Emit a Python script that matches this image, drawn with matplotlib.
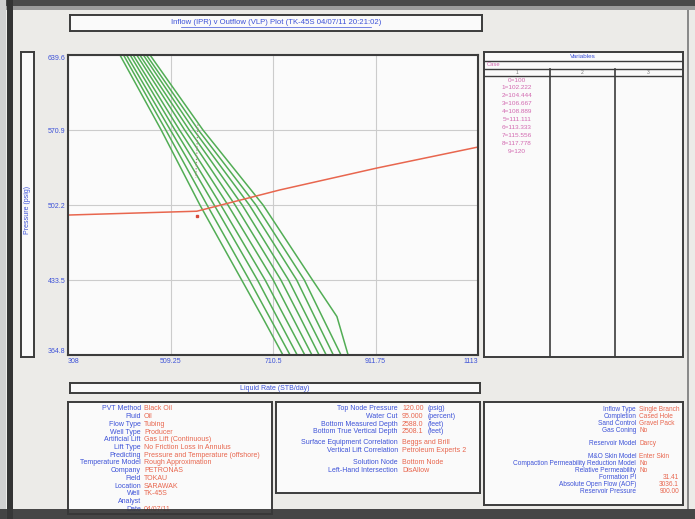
import matplotlib
matplotlib.use('Agg')
import matplotlib.pyplot as plt
from matplotlib.patches import Rectangle

# --- data ---
x_ticks = [308, 509.25, 710.5, 911.75, 1113]
y_ticks = [364.8, 433.5, 502.2, 570.9, 639.6]

# VLP (red outflow curve)
vlp_rate = [308, 561, 724, 915, 1113]
vlp_pres = [493.0, 496.5, 516.0, 536.1, 555.3]

# IPR curves (green), one rate list per sensitivity case, at these pressures
ipr_pres = [639.6, 570.9, 502.2, 433.5, 400.0, 364.8]
ipr_rates = [
    [410, 491, 567, 649, 689, 730],
    [417, 500, 581, 664, 703, 744],
    [423, 509, 595, 680, 718, 758],
    [430, 518, 608, 695, 733, 773],
    [436, 527, 622, 711, 748, 787],
    [443, 537, 636, 726, 763, 801],
    [449, 546, 650, 741, 777, 815],
    [456, 555, 664, 757, 792, 829],
    [462, 564, 677, 772, 807, 844],
    [469, 573, 691, 788, 836, 858],
]
case_labels = ['0=100', '1=102.222', '2=104.444', '3=106.667', '4=108.889',
               '5=111.111', '6=113.333', '7=115.556', '8=117.778', '9=120']

# dotted marker line near the VLP kink
mark_rate = [563, 559]
mark_pres = [576, 527]

setup_labels = ['PVT Method', 'Fluid', 'Flow Type', 'Well Type', 'Artificial Lift',
                'Lift Type', 'Predicting', 'Temperature Model', 'Company', 'Field',
                'Location', 'Well', 'Analyst', 'Date']
setup_values = ['Black Oil', 'Oil', 'Tubing', 'Producer', 'Gas Lift (Continuous)',
                'No Friction Loss in Annulus', 'Pressure and Temperature (offshore)',
                'Rough Approximation', 'PETRONAS', 'TOKAU', 'SARAWAK', 'TK-45S', '',
                '04/07/11']

well_labels = ['Top Node Pressure', 'Water Cut', 'Bottom Measured Depth',
               'Bottom True Vertical Depth', 'Surface Equipment Correlation',
               'Vertical Lift Correlation', 'Solution Node', 'Left-Hand Intersection']
well_values = ['120.00', '95.000', '2588.0', '2508.1', 'Beggs and Brill',
               'Petroleum Experts 2', 'Bottom Node', 'DisAllow']
well_units = ['(psig)', '(percent)', '(feet)', '(feet)', '', '', '', '']
well_rows = [409, 416.5, 424, 431.5, 443, 450.5, 462.5, 470]

res_labels = ['Inflow Type', 'Completion', 'Sand Control', 'Gas Coning',
              'Reservoir Model', 'M&O Skin Model',
              'Compaction Permeability Reduction Model', 'Relative Permeability',
              'Formation PI', 'Absolute Open Flow (AOF)', 'Reservoir Pressure']
res_values = ['Single Branch', 'Cased Hole', 'Gravel Pack', 'No', 'Darcy',
              'Enter Skin', 'No', 'No', '31.41', '3036.1', '900.00']
res_rows = [409, 416, 423, 430, 443, 456, 463, 470, 477, 484, 491]

# --- style ---
W, H = 695, 519
plt.rcParams['font.family'] = ['Liberation Sans', 'DejaVu Sans']
BLUE = '#3d52d8'
RED = '#e8664e'
PINK = '#d268b0'
GREEN = '#52ad55'
FRAME = '#3c3c3c'

fig = plt.figure(figsize=(W / 100, H / 100), dpi=100, facecolor='#ecebe8')


def box(x0, y0, x1, y1):
    return [x0 / W, 1 - y1 / H, (x1 - x0) / W, (y1 - y0) / H]


def panel(x0, y0, x1, y1, fc='#fafafa', lw=1.4):
    a = fig.add_axes(box(x0, y0, x1, y1), zorder=1)
    a.set_xlim(x0, x1)
    a.set_ylim(y1, y0)
    a.set_xticks([])
    a.set_yticks([])
    a.set_facecolor(fc)
    for s in a.spines.values():
        s.set_color(FRAME)
        s.set_linewidth(lw)
    return a


# --- main plot ---
ax = fig.add_axes(box(68, 55, 478, 355), zorder=2)
ax.set_facecolor('#fbfbfb')
for q in ipr_rates:
    ax.plot(q, ipr_pres, color=GREEN, lw=1.1, solid_capstyle='butt')
ax.plot(vlp_rate, vlp_pres, color=RED, lw=1.1)
ax.plot(mark_rate, mark_pres, color='#a08c80', lw=0.9, ls=(0, (1, 1.5)))
ax.plot([561], [492.5], marker='s', ms=2.0, color='#d84a3a', ls='none')

ax.set_xlim(308, 1113)
ax.set_ylim(364.8, 639.6)
ax.set_xticks(x_ticks)
ax.set_yticks(y_ticks)
ax.set_xticklabels([f'{v:g}' for v in x_ticks])
ax.set_yticklabels([f'{v:g}' for v in y_ticks])
ax.tick_params(length=0, labelsize=5, labelcolor=BLUE, pad=2)
xl = ax.get_xticklabels()
xl[0].set_ha('left')
xl[-1].set_ha('right')
yl = ax.get_yticklabels()
yl[0].set_va('bottom')
yl[-1].set_va('top')
ax.grid(color='#cccccc', lw=0.8)
for s in ax.spines.values():
    s.set_color(FRAME)
    s.set_linewidth(1.5)

# --- title and axis label boxes ---
t = panel(70, 15, 482, 31)
t.text(276, 23, 'Inflow (IPR) v Outflow (VLP) Plot (TK-45S 04/07/11 20:21:02)',
       ha='center', va='center', fontsize=5.6, color=BLUE)
t.plot([181, 371], [27.3, 27.3], color=BLUE, lw=0.5)

xb = panel(70, 383, 480, 393)
xb.text(275, 388, 'Liquid Rate (STB/day)', ha='center', va='center',
        fontsize=5, color=BLUE)

yb = panel(21, 52, 34, 357)
yb.text(27.5, 210, 'Pressure (psig)', ha='center', va='center', rotation=90,
        fontsize=5, color=BLUE)

# --- variables table ---
v = panel(484, 52, 683, 357)
for yy in [61, 69, 76]:
    v.plot([484, 683], [yy, yy], color=FRAME, lw=1.0)
for xx in [550, 615]:
    v.plot([xx, xx], [69, 357], color=FRAME, lw=1.2)
v.text(583, 57, 'Variables', ha='center', va='center', fontsize=4.6, color=BLUE)
v.text(487, 65, 'Case', ha='left', va='center', fontsize=4.2, color=PINK)
for xx, s in zip([517, 582, 648], ['1', '2', '3']):
    v.text(xx, 72.5, s, ha='center', va='center', fontsize=3.6, color='#777777')
for i, s in enumerate(case_labels):
    v.text(517, 80 + i * 7.9, s, ha='center', va='center', fontsize=4.6, color=PINK)

# --- bottom info boxes ---
b1 = panel(68, 402, 272, 514)
for i, (lab, val) in enumerate(zip(setup_labels, setup_values)):
    yy = 409 + i * 7.7
    b1.text(141, yy, lab, ha='right', va='center', fontsize=5, color=BLUE, clip_on=True)
    b1.text(144, yy, val, ha='left', va='center', fontsize=5, color=RED, clip_on=True)

b2 = panel(276, 402, 480, 493)
for lab, val, unit, yy in zip(well_labels, well_values, well_units, well_rows):
    b2.text(398, yy, lab, ha='right', va='center', fontsize=5, color=BLUE)
    b2.text(402, yy, val, ha='left', va='center', fontsize=5, color=RED)
    if unit:
        b2.text(428, yy, unit, ha='left', va='center', fontsize=5, color=BLUE)

b3 = panel(484, 402, 683, 505)
for lab, val, yy in zip(res_labels, res_values, res_rows):
    b3.text(636, yy, lab, ha='right', va='center', fontsize=4.7, color=BLUE)
    if val[0].isdigit():
        b3.text(679, yy, val, ha='right', va='center', fontsize=4.7, color=RED)
    else:
        b3.text(639, yy, val, ha='left', va='center', fontsize=4.7, color=RED)

# --- scanned page border ---
fg = fig.add_axes([0, 0, 1, 1], zorder=10)
fg.set_xlim(0, W)
fg.set_ylim(H, 0)
fg.axis('off')
fg.patch.set_alpha(0)
fg.add_patch(Rectangle((0, 0), W, 6, color='#4a4a4a', lw=0))
fg.add_patch(Rectangle((0, 6), W, 4, color='#9c9c9c', lw=0))
fg.add_patch(Rectangle((0, 0), 6, H, color='#d0d0d0', lw=0))
fg.add_patch(Rectangle((7, 0), 6, H, color='#343434', lw=0))
fg.add_patch(Rectangle((0, 509), W, 10, color='#383838', lw=0, alpha=0.92))
fg.add_patch(Rectangle((687, 10), 1.5, 499, color='#8a8a8a', lw=0))

fig.savefig('out.png', dpi=100, facecolor=fig.get_facecolor())
